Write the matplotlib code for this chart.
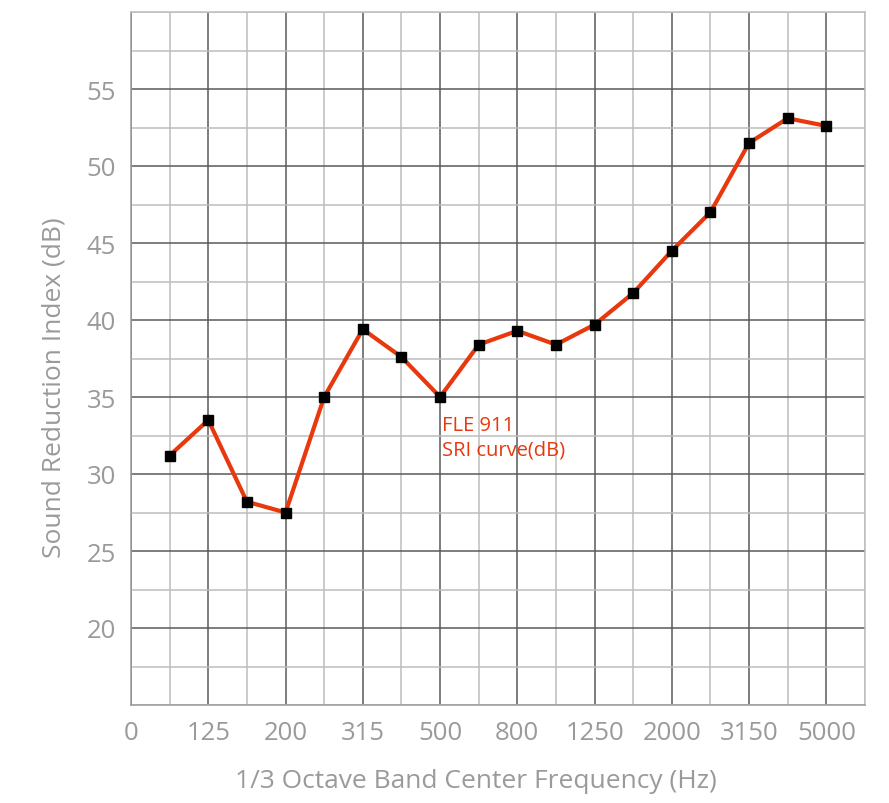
import numpy as np
import matplotlib
matplotlib.use("Agg")
import matplotlib.pyplot as plt

plt.rcParams['font.family'] = ['Open Sans', 'DejaVu Sans']

# band positions 1..18 on a categorical axis
band_labels = ["0", "125", "200", "315", "500", "800", "1250", "2000", "3150", "5000"]
sri_values = [31.2, 33.5, 28.2, 27.5, 35.0, 39.4, 37.6, 35.0, 38.4,
              39.3, 38.4, 39.7, 41.75, 44.5, 47.0, 51.5, 53.1, 52.6]

grey = "#9a9a9a"
line_col = "#e8380d"

fig = plt.figure(figsize=(8.89, 8.04), dpi=100)
ax = fig.add_axes([131 / 889, 1 - 706 / 804, (865 - 131) / 889, (706 - 13) / 804])

x = np.arange(1, len(sri_values) + 1)
ax.plot(x, sri_values, color=line_col, lw=3, marker="s", ms=7,
        mfc="black", mec="black", zorder=3)

ax.set_xlim(0, 19)
ax.set_ylim(15, 60)
ax.set_xticks(np.arange(0, 19, 2))
ax.set_xticklabels(band_labels)
ax.set_xticks(np.arange(1, 20, 2), minor=True)
ax.set_yticks(np.arange(20, 56, 5))
ax.set_yticks(np.arange(15, 60.1, 2.5), minor=True)

ax.grid(which="major", color="#5a5a5a", lw=1.1)
ax.grid(which="minor", color="#bdbdbd", lw=1.1)
ax.set_axisbelow(True)
for s in ax.spines.values():
    s.set_color("#bdbdbd")
    s.set_linewidth(1.1)
ax.spines["left"].set_color("#9a9a9a")
ax.spines["bottom"].set_color("#9a9a9a")

ax.tick_params(which="both", length=0, colors=grey, labelsize=18.5, pad=11)

ax.set_xlabel("1/3 Octave Band Center Frequency (Hz)", color=grey, fontsize=19)
ax.set_ylabel("Sound Reduction Index (dB)", color=grey, fontsize=19)
ax.xaxis.set_label_coords(0.47, -0.091)
ax.yaxis.set_label_coords(-0.088, 0.46)

ax.text(8.05, 33.8, "FLE 911\nSRI curve(dB)", color=line_col, fontsize=14.5,
        va="top", ha="left", linespacing=1.3)

fig.savefig("out.png", dpi=100)
